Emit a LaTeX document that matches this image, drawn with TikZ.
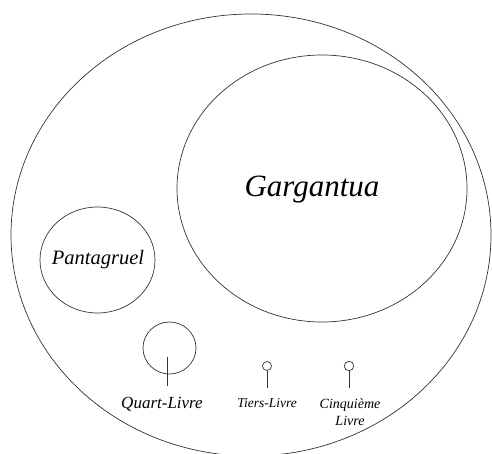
\documentclass[tikz,border=0pt]{standalone}
\usepackage{fontspec}
\setmainfont{Liberation Serif}
\newfontfamily\timesfam{Liberation Serif}
\usetikzlibrary{shapes.geometric}
\begin{document}
\begin{tikzpicture}[x=1pt,y=-1pt,
  ring/.style={draw=black!80,line width=0.7pt},
  stem/.style={draw=black!80,line width=0.7pt},
  lbl/.style={inner sep=0pt,anchor=base}]
\useasboundingbox (0,0) rectangle (492,454);
\begin{scope}
\clip (0,0) rectangle (492,454);
\node[ring,ellipse,minimum width=480,minimum height=442,inner sep=0pt] (outer) at (251,235) {};
\end{scope}
\node[ring,ellipse,minimum width=290,minimum height=267,inner sep=0pt] (garg) at (322,188.5) {};
\node[lbl,font=\timesfam\itshape\fontsize{31}{31}\selectfont] (gargt) at (312,197) {Gargantua};
\node[ring,ellipse,minimum width=115,minimum height=106,inner sep=0pt] (pant) at (97.5,260) {};
\node[lbl,font=\timesfam\itshape\fontsize{20.5}{20.5}\selectfont] (pantt) at (98,264) {Pantagruel};
\node[ring,ellipse,minimum width=53,minimum height=52,inner sep=0pt] (quart) at (169.5,348) {};
\coordinate (q1) at (167,357);
\coordinate (q2) at (167,386);
\draw[stem] (q1) -- (q2);
\node[lbl,font=\timesfam\itshape\fontsize{17}{17}\selectfont] (quartt) at (162,408) {Quart-Livre};
\node[ring,circle,minimum size=9,inner sep=0pt] (tiers) at (267,366) {};
\coordinate (t2) at (267,388);
\draw[stem] (tiers.south) -- (t2);
\node[lbl,font=\timesfam\itshape\fontsize{13.5}{13.5}\selectfont] (tierst) at (267,407) {Tiers-Livre};
\node[ring,circle,minimum size=9.5,inner sep=0pt] (cinq) at (349,366) {};
\coordinate (c2) at (349,388);
\draw[stem] (cinq.south) -- (c2);
\node[lbl,font=\timesfam\itshape\fontsize{14}{14}\selectfont] (cinqt) at (350,408) {Cinquième};
\node[lbl,font=\timesfam\itshape\fontsize{14}{14}\selectfont] (cinqt2) at (350,425) {Livre};
\end{tikzpicture}
\end{document}
